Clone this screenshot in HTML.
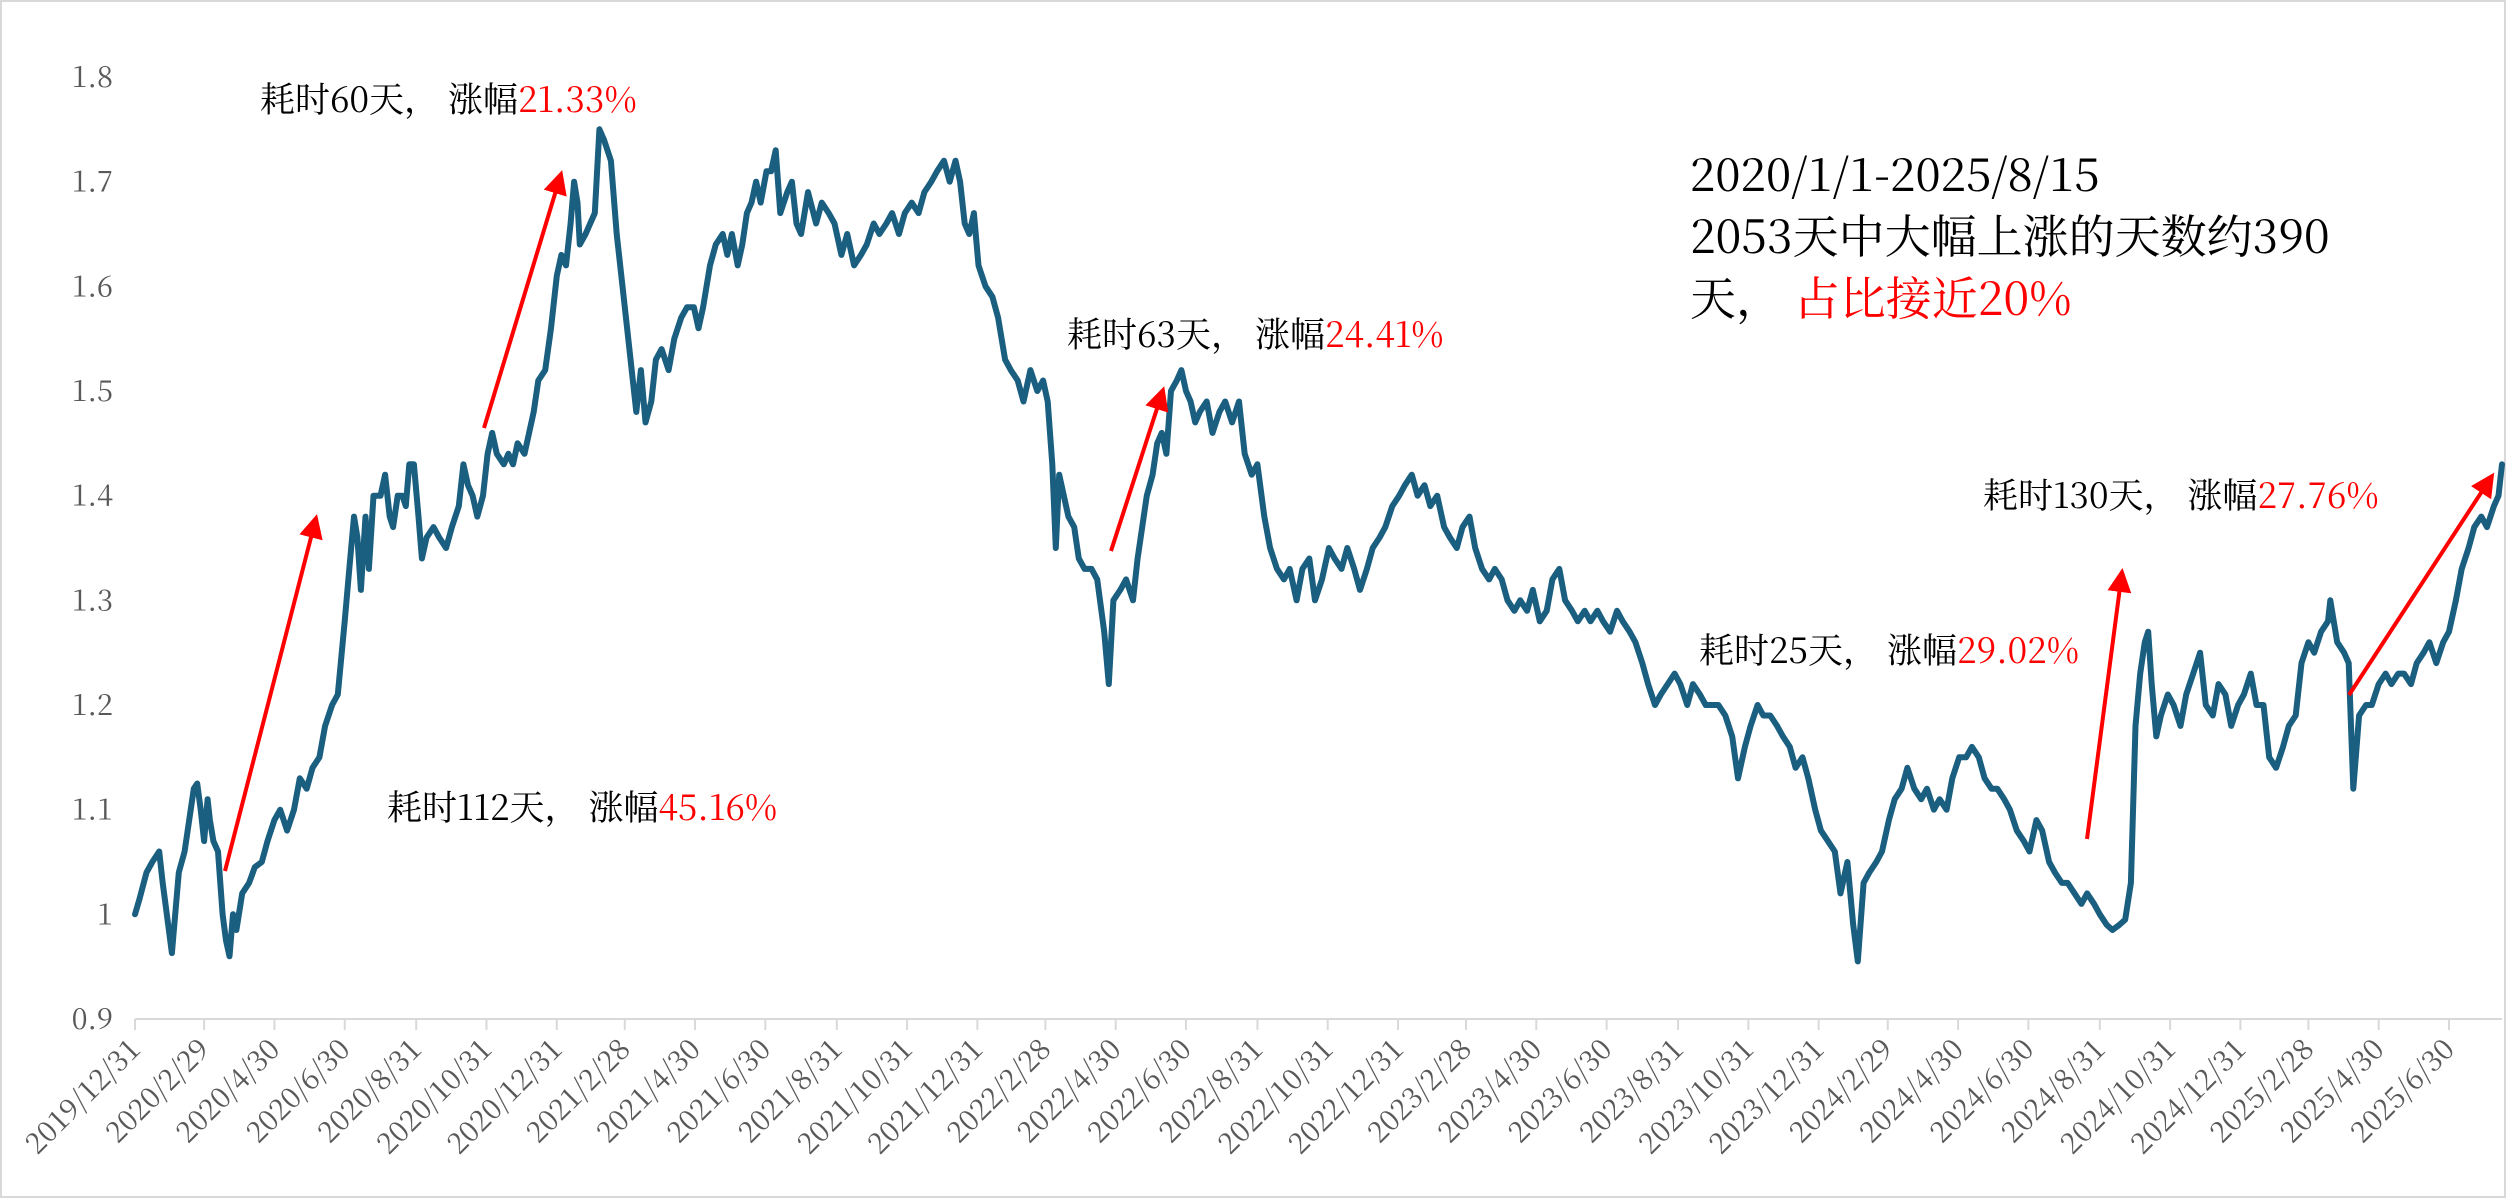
<!DOCTYPE html>
<html><head><meta charset="utf-8">
<style>
html,body{margin:0;padding:0;background:#fff;}
svg{display:block;}
.ann{font-family:"Noto Serif CJK SC","Liberation Serif",serif;font-size:35px;fill:#000;}
.big{font-family:"Noto Serif CJK SC","Liberation Serif",serif;font-size:46px;fill:#000;}
.red{fill:#ff0000;}
.tick{font-family:"Noto Serif CJK SC","Liberation Serif",serif;font-size:29px;fill:#595959;}
</style></head>
<body>
<svg id="chart" width="2506" height="1198" viewBox="0 0 2506 1198" xmlns="http://www.w3.org/2000/svg">
<rect x="1" y="1" width="2504" height="1196" fill="#fff" stroke="#d9d9d9" stroke-width="2"/>
<g id="yaxis"></g>
<g id="xaxis"></g>
<g id="series"></g>
<g id="annots">
<defs><marker id="ah" markerWidth="6" markerHeight="6" refX="5" refY="3" orient="auto"><path d="M0,0 L6,3 L0,6 z" fill="#ff0000"/></marker></defs>
<line x1="225" y1="871" x2="316" y2="518" stroke="#ff0000" stroke-width="4" marker-end="url(#ah)"/>
<line x1="484" y1="428" x2="561" y2="174" stroke="#ff0000" stroke-width="4" marker-end="url(#ah)"/>
<line x1="1111" y1="551" x2="1163" y2="390" stroke="#ff0000" stroke-width="4" marker-end="url(#ah)"/>
<line x1="2087" y1="839" x2="2122" y2="572" stroke="#ff0000" stroke-width="4" marker-end="url(#ah)"/>
<line x1="2349" y1="695" x2="2492" y2="476" stroke="#ff0000" stroke-width="4" marker-end="url(#ah)"/>
<text class="ann" x="260" y="112">耗时60天， 涨幅<tspan class="red">21.33%</tspan></text>
<text class="ann" x="387" y="820">耗时112天， 涨幅<tspan class="red">45.16%</tspan></text>
<text class="ann" x="1067" y="347">耗时63天， 涨幅<tspan class="red">24.41%</tspan></text>
<text class="ann" x="1699" y="663">耗时25天， 涨幅<tspan class="red">29.02%</tspan></text>
<text class="ann" x="1983" y="508">耗时130天， 涨幅<tspan class="red">27.76%</tspan></text>
<text class="big" x="1690" y="191">2020/1/1-2025/8/15</text>
<text class="big" x="1690" y="253">2053天中大幅上涨的天数约390</text>
<text class="big" x="1690" y="315">天， <tspan class="red">占比接近20%</tspan></text>
</g>
</svg>
<script>
const yTicks = [0.9,1,1.1,1.2,1.3,1.4,1.5,1.6,1.7,1.8];
const yTickLabels = ["0.9","1","1.1","1.2","1.3","1.4","1.5","1.6","1.7","1.8"];
const xTickLabels = ["2019/12/31","2020/2/29","2020/4/30","2020/6/30","2020/8/31","2020/10/31","2020/12/31","2021/2/28","2021/4/30","2021/6/30","2021/8/31","2021/10/31","2021/12/31","2022/2/28","2022/4/30","2022/6/30","2022/8/31","2022/10/31","2022/12/31","2023/2/28","2023/4/30","2023/6/30","2023/8/31","2023/10/31","2023/12/31","2024/2/29","2024/4/30","2024/6/30","2024/8/31","2024/10/31","2024/12/31","2025/2/28","2025/4/30","2025/6/30"];
const dayOffsets = [0,4,10,15,21,24,32,38,43,47,51,54,57,60,63,65,68,72,76,79,82,85,88,93,99,104,110,115,121,126,132,138,143,149,154,160,165,171,176,182,186,190,193,196,200,203,207,213,217,221,224,228,232,235,238,242,246,249,253,259,264,270,275,281,285,289,293,297,302,306,310,314,320,324,328,332,338,342,346,350,356,361,366,370,374,378,381,384,386,391,395,399,403,407,413,418,423,427,431,435,439,443,448,452,457,463,468,474,479,485,489,493,499,504,510,514,518,523,527,531,535,539,543,548,552,556,560,566,570,574,578,584,591,596,602,607,613,618,624,630,635,641,646,652,657,663,668,674,680,685,691,696,702,707,712,716,720,724,728,732,738,744,749,755,760,766,771,777,783,788,792,796,799,802,806,810,815,819,824,830,835,841,845,849,855,860,866,870,874,878,883,887,891,895,899,904,908,912,916,920,924,930,935,941,946,952,958,963,969,974,980,985,991,997,1002,1008,1013,1019,1024,1030,1036,1041,1047,1052,1058,1063,1069,1074,1080,1085,1091,1097,1102,1108,1113,1119,1124,1130,1136,1141,1147,1152,1158,1163,1169,1175,1180,1186,1191,1197,1202,1208,1213,1219,1225,1230,1236,1241,1247,1252,1258,1263,1269,1274,1280,1286,1291,1297,1302,1308,1313,1319,1324,1330,1336,1341,1347,1352,1358,1363,1369,1374,1380,1386,1391,1397,1402,1408,1413,1419,1425,1430,1436,1441,1447,1452,1458,1463,1469,1475,1480,1486,1491,1495,1500,1505,1511,1516,1522,1527,1533,1538,1544,1550,1555,1561,1566,1572,1577,1583,1589,1594,1600,1605,1611,1616,1622,1627,1633,1639,1644,1650,1655,1661,1666,1672,1677,1683,1689,1694,1700,1705,1711,1716,1722,1727,1732,1736,1740,1744,1747,1750,1754,1758,1764,1769,1775,1780,1786,1792,1797,1803,1808,1814,1819,1825,1830,1836,1841,1847,1852,1858,1864,1869,1875,1880,1886,1891,1897,1903,1905,1911,1917,1921,1925,1930,1936,1941,1947,1953,1958,1964,1969,1975,1980,1986,1991,1997,2003,2008,2014,2019,2025,2030,2036,2041,2047,2051,2054];
const navValues = [1.00,1.015,1.04,1.05,1.06,1.03,0.963,1.04,1.06,1.09,1.12,1.125,1.10,1.07,1.11,1.09,1.07,1.06,1.00,0.975,0.96,1.00,0.985,1.02,1.03,1.045,1.05,1.07,1.09,1.10,1.08,1.10,1.13,1.12,1.14,1.15,1.18,1.20,1.21,1.28,1.33,1.38,1.36,1.31,1.38,1.33,1.40,1.40,1.42,1.38,1.37,1.40,1.40,1.39,1.43,1.43,1.38,1.34,1.36,1.37,1.36,1.35,1.37,1.39,1.43,1.41,1.40,1.38,1.40,1.44,1.46,1.44,1.43,1.44,1.43,1.45,1.44,1.46,1.48,1.51,1.52,1.56,1.61,1.63,1.62,1.66,1.70,1.68,1.64,1.65,1.66,1.67,1.75,1.74,1.72,1.65,1.60,1.56,1.52,1.48,1.52,1.47,1.49,1.53,1.54,1.52,1.55,1.57,1.58,1.58,1.56,1.58,1.62,1.64,1.65,1.63,1.65,1.62,1.64,1.67,1.68,1.70,1.68,1.71,1.71,1.73,1.67,1.69,1.70,1.66,1.65,1.69,1.66,1.68,1.67,1.66,1.63,1.65,1.62,1.63,1.64,1.66,1.65,1.66,1.67,1.65,1.67,1.68,1.67,1.69,1.70,1.71,1.72,1.70,1.72,1.70,1.66,1.65,1.67,1.62,1.60,1.59,1.57,1.53,1.52,1.51,1.49,1.52,1.50,1.51,1.49,1.43,1.35,1.42,1.40,1.38,1.37,1.34,1.33,1.33,1.32,1.27,1.22,1.30,1.31,1.32,1.30,1.34,1.37,1.40,1.42,1.45,1.46,1.44,1.50,1.51,1.52,1.50,1.49,1.47,1.48,1.49,1.46,1.48,1.49,1.47,1.49,1.44,1.42,1.43,1.38,1.35,1.33,1.32,1.33,1.30,1.33,1.34,1.30,1.32,1.35,1.34,1.33,1.35,1.33,1.31,1.33,1.35,1.36,1.37,1.39,1.40,1.41,1.42,1.40,1.41,1.39,1.40,1.37,1.36,1.35,1.37,1.38,1.35,1.33,1.32,1.33,1.32,1.30,1.29,1.30,1.29,1.31,1.28,1.29,1.32,1.33,1.30,1.29,1.28,1.29,1.28,1.29,1.28,1.27,1.29,1.28,1.27,1.26,1.24,1.22,1.20,1.21,1.22,1.23,1.22,1.20,1.22,1.21,1.20,1.20,1.20,1.19,1.17,1.13,1.16,1.18,1.20,1.19,1.19,1.18,1.17,1.16,1.14,1.15,1.13,1.10,1.08,1.07,1.06,1.02,1.05,0.99,0.955,1.03,1.04,1.05,1.06,1.09,1.11,1.12,1.14,1.12,1.11,1.12,1.10,1.11,1.10,1.13,1.15,1.15,1.16,1.15,1.13,1.12,1.12,1.11,1.10,1.08,1.07,1.06,1.09,1.08,1.05,1.04,1.03,1.03,1.02,1.01,1.02,1.01,1.00,0.99,0.985,0.99,0.995,1.03,1.18,1.23,1.26,1.27,1.22,1.17,1.19,1.21,1.20,1.18,1.21,1.23,1.25,1.20,1.19,1.22,1.21,1.18,1.20,1.21,1.23,1.20,1.20,1.15,1.14,1.16,1.18,1.19,1.24,1.26,1.25,1.27,1.28,1.30,1.26,1.25,1.24,1.12,1.19,1.20,1.20,1.22,1.23,1.22,1.23,1.23,1.22,1.24,1.25,1.26,1.24,1.26,1.27,1.30,1.33,1.35,1.37,1.38,1.37,1.39,1.40,1.43];

const NS = "http://www.w3.org/2000/svg";
const X0 = 135, X1 = 2502, Y0 = 1019, Y1 = 77;
const DMAX = 2054, VMIN = 0.9, VMAX = 1.8;
function xScale(d){ return X0 + d/DMAX*(X1-X0); }
function yScale(v){ return Y0 - (v-VMIN)/(VMAX-VMIN)*(Y0-Y1); }
const base = Date.UTC(2019,11,31);
function dayOf(label){ const p=label.split('/').map(Number); return Math.round((Date.UTC(p[0],p[1]-1,p[2])-base)/86400000); }
function mk(tag, attrs){ const e=document.createElementNS(NS,tag); for(const k in attrs) e.setAttribute(k, attrs[k]); return e; }

const yG = document.getElementById('yaxis');
yTicks.forEach((v,i)=>{
  const t = mk('text',{x:113,y:yScale(v)+10,'text-anchor':'end','class':'tick'});
  
  
  t.textContent = yTickLabels[i];
  yG.appendChild(t);
});

const xG = document.getElementById('xaxis');
const axis = mk('line',{x1:X0,y1:Y0,x2:X1,y2:Y0,stroke:'#d9d9d9','stroke-width':2});


xG.appendChild(axis);
xTickLabels.forEach(lbl=>{
  const x = xScale(dayOf(lbl));
  const tk = mk('line',{x1:x,y1:Y0,x2:x,y2:Y0+11,stroke:'#d9d9d9','stroke-width':2});
  
  
  xG.appendChild(tk);
  const t = mk('text',{x:x+7,y:Y0+32,'text-anchor':'end','class':'tick',transform:`rotate(-45 ${x+7} ${Y0+32})`});
  
  
  t.textContent = lbl;
  xG.appendChild(t);
});

const sG = document.getElementById('series');
let d = '';
dayOffsets.forEach((dd,i)=>{ d += (i?'L':'M') + xScale(dd).toFixed(1) + ',' + yScale(navValues[i]).toFixed(1); });
const path = mk('path',{d:d,fill:'none',stroke:'#1a5e80','stroke-width':6,'stroke-linejoin':'round','stroke-linecap':'round'});


sG.appendChild(path);
</script>
</body></html>
